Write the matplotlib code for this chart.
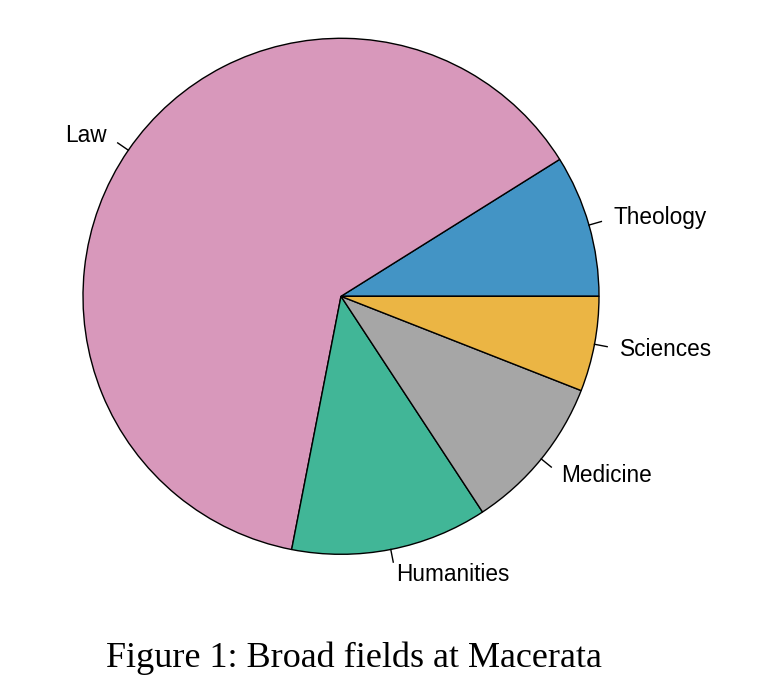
import numpy as np
import matplotlib
matplotlib.use("Agg")
import matplotlib.pyplot as plt

fields = ["Theology", "Law", "Humanities", "Medicine", "Sciences"]
shares = [8.9, 63.0, 12.3, 9.8, 5.95]
colors = ["#4394C5", "#D898BB", "#41B697", "#A6A6A6", "#EBB544"]
caption = "Figure 1: Broad fields at Macerata"

W, H = 767, 689
fig = plt.figure(figsize=(W / 100, H / 100), dpi=100)
ax = fig.add_axes([0, 0, 1, 1])

cx, cy, r = 341, H - 296.3, 258

wedges, texts = ax.pie(
    shares, labels=fields, colors=colors, startangle=0, counterclock=True,
    center=(cx, cy), radius=r, labeldistance=1.1, frame=True,
    wedgeprops=dict(edgecolor="black", linewidth=1.0),
    textprops=dict(fontsize=16.3, family="Liberation Sans"),
)
ax.set_xlim(0, W)
ax.set_ylim(0, H)
ax.set_aspect("equal")
ax.axis("off")

for w, t in zip(wedges, texts):
    mid = np.deg2rad((w.theta1 + w.theta2) / 2)
    ax.plot([cx + r * np.cos(mid), cx + 1.05 * r * np.cos(mid)],
            [cy + r * np.sin(mid), cy + 1.05 * r * np.sin(mid)],
            color="black", lw=1.0)
    t.set_ha("left" if np.cos(mid) > 0 else "right")
    t.set_va("center")

fig.text(354 / W, 1 - 658 / H, caption, ha="center", va="center",
         fontsize=26, family="Liberation Serif")

fig.savefig("out.png", dpi=100)
